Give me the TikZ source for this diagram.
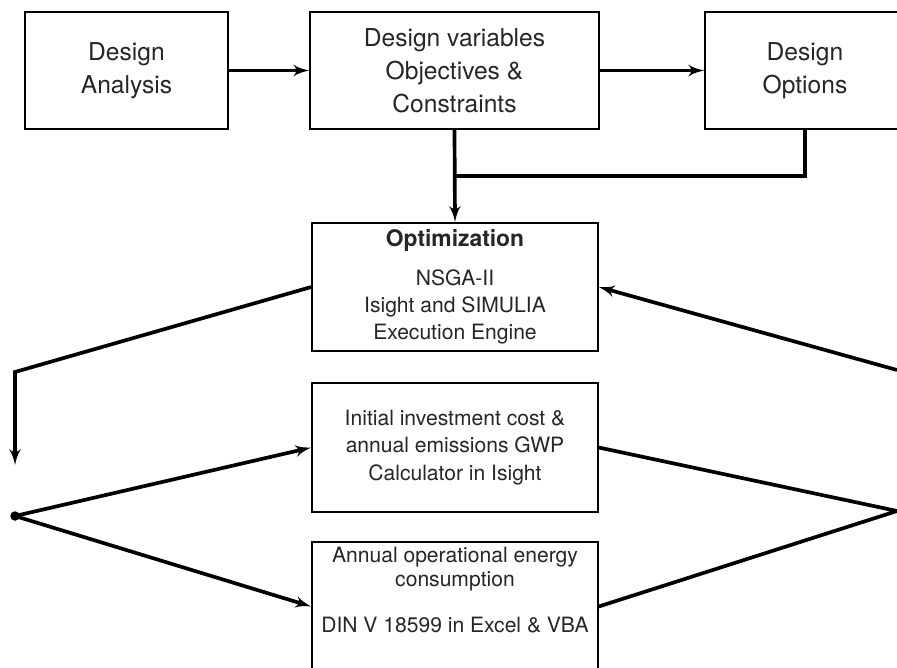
\documentclass[tikz,border=0pt]{standalone}
\usepackage{fontspec}
\setmainfont{TeX Gyre Heros}
\usetikzlibrary{shapes,arrows,positioning}
\tikzstyle{block} = [rectangle, draw, line width=0.9pt, text centered,
    align=center, inner sep=0pt, text=black!85]
\tikzstyle{topblock} = [block, minimum height=2.34cm,
    font=\fontsize{14}{18.8}\selectfont]
\tikzstyle{midblock} = [block, minimum width=5.72cm, minimum height=2.57cm,
    font=\fontsize{12}{15.5}\selectfont]
\tikzstyle{txt} = [align=center, inner sep=0pt, text=black!85,
    font=\fontsize{12}{13.6}\selectfont]
\tikzstyle{line} = [draw, line width=2.1pt, -latex']
\tikzstyle{wire} = [draw, line width=2.1pt]
\tikzstyle{dot} = [circle, fill, inner sep=0pt, minimum size=0.19cm]

\begin{document}
\begin{tikzpicture}[x=0.02cm, y=-0.02cm]
      \useasboundingbox (0,0) rectangle (897,667);
      \clip (0,0) rectangle (897,667);

      \node [topblock, minimum width=4.06cm] (analysis) at (126.5,70.5)
         {Design\\ Analysis};
      \node [topblock, minimum width=5.78cm] (dvars) at (454.5,70.5)
         {Design variables\\ Objectives \&\\ Constraints};
      \node [topblock, minimum width=4.0cm] (options) at (805,70.5)
         {Design\\ Options};
      \node [midblock] (optim) at (455,287)
         {{\fontsize{13}{15}\selectfont\bfseries Optimization}\\[6.5pt]
          NSGA-II\\ Isight and SIMULIA\\ Execution Engine};
      \node [midblock] (invest) at (455,447.5)
         {Initial investment cost \&\\ annual emissions GWP\\ Calculator in Isight};
      \node [midblock] (energy) at (455,606.5) {};
      \node [txt, below=0.1cm of energy.north] (energytxt)
         {Annual operational energy\\ consumption\\[13pt] DIN V 18599 in Excel \& VBA};

      \node [dot] (split) at (15,516) {};
      \coordinate (merge) at (454.5,176);
      \coordinate (bendL) at (15,372);
      \coordinate (arrL) at (15,465);
      \coordinate (joinR) at (897,511);
      \coordinate (bendR) at (897,370);

      \path [line] (analysis) -- (dvars);
      \path [line] (dvars) -- (options);
      \path [line] (dvars.south) -- (optim.north);
      \path [wire] (options.south) |- (merge);
      \path [line] (optim.west) -- (bendL) -- (arrL);
      \path [line] (split.center) -- (invest.west);
      \path [line] (split.center) -- (energy.west);
      \path [wire] (invest.east) -- (joinR) -- (energy.east);
      \path [line] (bendR) -- (optim.east);
   \end{tikzpicture}
\end{document}
